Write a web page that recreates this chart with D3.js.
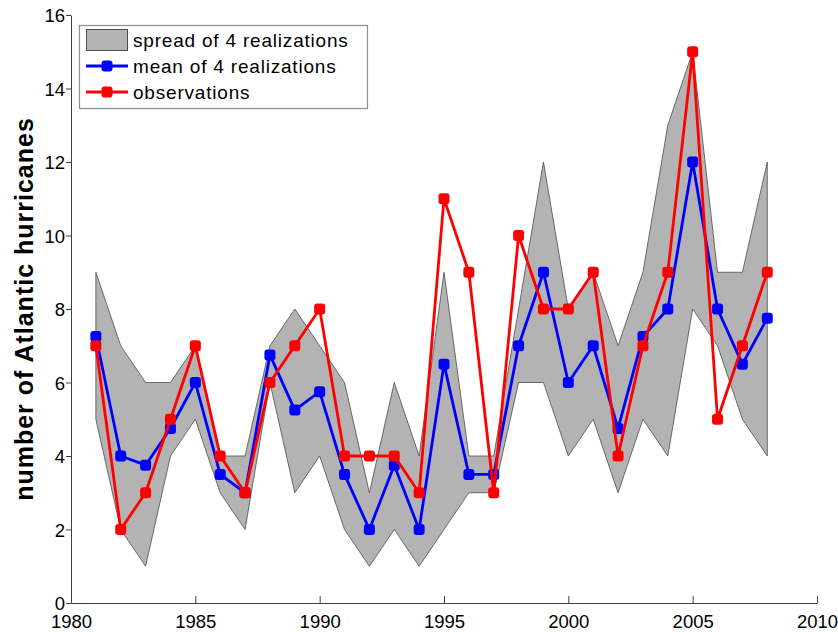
<!DOCTYPE html>
<html>
<head>
<meta charset="utf-8">
<script src="https://cdn.jsdelivr.net/npm/d3@7"></script>
<style>
  body { margin: 0; background: #fff; }
  svg { display: block; font-family: "Liberation Sans", Arial, Helvetica, sans-serif; }
</style>
</head>
<body>
<svg id="chart"></svg>
<script>
// hurricane counts, 1981-2008
const years = [1981, 1982, 1983, 1984, 1985, 1986, 1987, 1988, 1989, 1990,
  1991, 1992, 1993, 1994, 1995, 1996, 1997, 1998, 1999, 2000,
  2001, 2002, 2003, 2004, 2005, 2006, 2007, 2008];
const spreadMax = [9, 7, 6, 6, 7, 4, 4, 7, 8, 7, 6, 3, 6, 4, 9, 4, 4, 8, 12, 8,
  9, 7, 9, 13, 15, 9, 9, 12];
const spreadMin = [5, 2, 1, 4, 5, 3, 2, 6, 3, 4, 2, 1, 2, 1, 2, 3, 3, 6, 6, 4,
  5, 3, 5, 4, 8, 7, 5, 4];
const meanVals = [7.25, 4, 3.75, 4.75, 6, 3.5, 3, 6.75, 5.25, 5.75, 3.5, 2, 3.75, 2, 6.5, 3.5, 3.5, 7, 9, 6,
  7, 4.75, 7.25, 8, 12, 8, 6.5, 7.75];
const obsVals = [7, 2, 3, 5, 7, 4, 3, 6, 7, 8, 4, 4, 4, 3, 11, 9, 3, 10, 8, 8,
  9, 4, 7, 9, 15, 5, 7, 9];
const xTicks = [1980, 1985, 1990, 1995, 2000, 2005, 2010];
const yTicks = [0, 2, 4, 6, 8, 10, 12, 14, 16];
const legendLabels = ["spread of 4 realizations", "mean of 4 realizations", "observations"];

const width = 838, height = 632;
const svg = d3.select("#chart").attr("width", width).attr("height", height);

const x = d3.scaleLinear().domain([1980, 2010]).range([71, 817]);
const y = d3.scaleLinear().domain([0, 16]).range([603, 15]);

const rows = years.map((yr, i) => ({
  year: yr, lo: spreadMin[i], hi: spreadMax[i], mean: meanVals[i], obs: obsVals[i]
}));

// spread band
const area = d3.area().x(d => x(d.year)).y0(d => y(d.lo)).y1(d => y(d.hi));
svg.append("path").datum(rows)
  .attr("d", area)
  .attr("fill", "#b3b3b3")
  .attr("stroke", "#4d4d4d")
  .attr("stroke-width", 0.8);

function drawSeries(key, color) {
  const line = d3.line().x(d => x(d.year)).y(d => y(d[key]));
  svg.append("path").datum(rows)
    .attr("d", line)
    .attr("fill", "none")
    .attr("stroke", color)
    .attr("stroke-width", 2.8)
    .attr("stroke-linejoin", "round");
  svg.append("g").selectAll("rect").data(rows).enter().append("rect")
    .attr("x", d => x(d.year) - 5.5)
    .attr("y", d => y(d[key]) - 5.5)
    .attr("width", 11).attr("height", 11)
    .attr("rx", 3)
    .attr("fill", color);
}
drawSeries("mean", "#0000ff");
drawSeries("obs", "#ff0000");

// axes
const yAxis = svg.append("g").attr("transform", `translate(${x(1980)},0)`)
  .call(d3.axisLeft(y).tickValues(yTicks).tickSize(5).tickSizeOuter(0).tickPadding(1));
const xAxis = svg.append("g").attr("transform", `translate(0,${y(0)})`)
  .call(d3.axisBottom(x).tickValues(xTicks).tickFormat(d3.format("d")).tickSize(-7).tickSizeOuter(0).tickPadding(12));
[yAxis, xAxis].forEach(g => {
  g.select(".domain").attr("stroke", "#404040").attr("stroke-width", 1);
  g.selectAll(".tick line").attr("stroke", "#404040");
  g.selectAll("text").attr("font-size", 18.5).attr("fill", "#000")
    .attr("font-family", "'Liberation Sans', Arial, sans-serif");
});
yAxis.selectAll("text").attr("dy", "0.36em");

svg.append("text")
  .attr("transform", `translate(33,${(y(0) + y(16)) / 2}) rotate(-90)`)
  .attr("text-anchor", "middle")
  .attr("font-size", 25)
  .attr("letter-spacing", 1)
  .attr("font-weight", "bold")
  .text("number of Atlantic hurricanes");

// legend
const lg = svg.append("g");
lg.append("rect").attr("x", 79.5).attr("y", 25.5).attr("width", 288).attr("height", 83)
  .attr("fill", "#fff").attr("stroke", "#8c8c8c").attr("stroke-width", 1.2);
const rowY = [40, 66, 92];
lg.append("rect").attr("x", 86.5).attr("y", rowY[0] - 10.5).attr("width", 41).attr("height", 21)
  .attr("fill", "#b3b3b3").attr("stroke", "#4d4d4d").attr("stroke-width", 1);
[["#0000ff", rowY[1]], ["#ff0000", rowY[2]]].forEach(([c, yy]) => {
  lg.append("line").attr("x1", 86).attr("x2", 128).attr("y1", yy).attr("y2", yy)
    .attr("stroke", c).attr("stroke-width", 2.8);
  lg.append("rect").attr("x", 101.5).attr("y", yy - 5.5).attr("width", 11).attr("height", 11)
    .attr("rx", 3).attr("fill", c);
});
lg.selectAll("text.lab").data(legendLabels).enter().append("text")
  .attr("class", "lab")
  .attr("x", 133)
  .attr("y", (d, i) => rowY[i] + 7)
  .attr("font-size", 19)
  .attr("letter-spacing", 0.8)
  .text(d => d);
</script>
</body>
</html>
